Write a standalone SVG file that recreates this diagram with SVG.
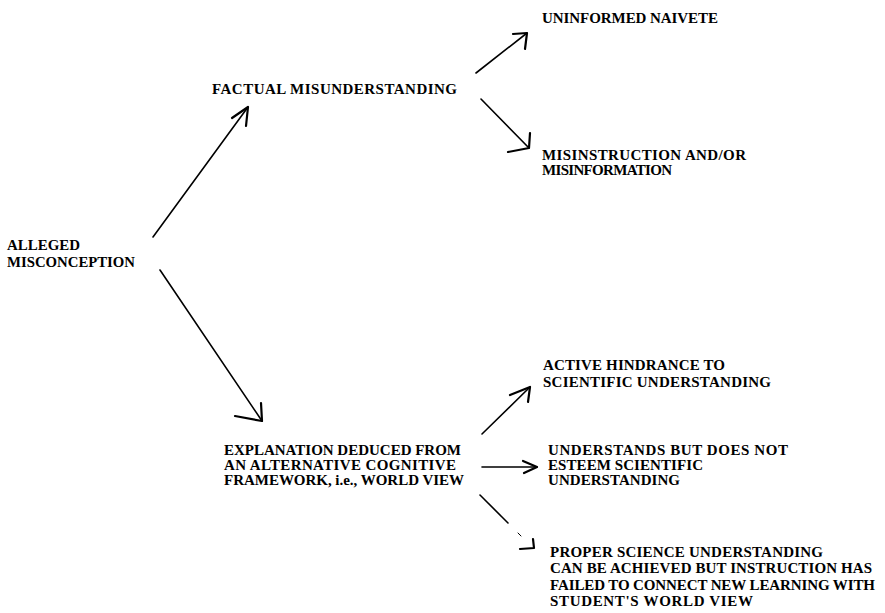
<svg xmlns="http://www.w3.org/2000/svg" width="885" height="613" viewBox="0 0 885 613">
<style>
  text { font-family: "Liberation Serif", "Times New Roman", serif; font-size: 15px; font-weight: bold; fill: #000; }
  .ln { stroke: #000; stroke-width: 1.6; fill: none; stroke-linecap: round; }
  .hd { stroke: #000; stroke-width: 2.2; fill: none; stroke-linecap: round; stroke-linejoin: round; }
</style>
<rect width="885" height="613" fill="#fff"/>
<g id="connectors">
  <line class="ln" x1="153" y1="237" x2="248" y2="107"/>
  <polyline class="hd" points="232,118 248,107 246,126"/>
  <line class="ln" x1="160" y1="270" x2="262" y2="421"/>
  <polyline class="hd" points="235,416 262,421 261,403"/>
  <line class="ln" x1="476" y1="73" x2="527" y2="33"/>
  <polyline class="hd" points="513,34 527,33 525,49"/>
  <line class="ln" x1="481" y1="99" x2="529" y2="148"/>
  <polyline class="hd" points="508,152 529,148 530,133"/>
  <line class="ln" x1="482" y1="434" x2="530" y2="387"/>
  <polyline class="hd" points="510,395 530,387 528,402"/>
  <line class="ln" x1="482" y1="467" x2="537" y2="467"/>
  <polyline class="hd" points="523,461 537,467 524,473"/>
  <line class="ln" x1="480" y1="495" x2="508" y2="523"/>
  <line class="ln" x1="518" y1="533" x2="521" y2="536" style="stroke-width:1"/>
  <polyline class="hd" points="520,549 534,548 533,539"/>
</g>
<g id="alleged">
  <text x="7" y="250" textLength="73" lengthAdjust="spacingAndGlyphs">ALLEGED</text>
  <text x="7" y="267" textLength="128" lengthAdjust="spacingAndGlyphs">MISCONCEPTION</text>
</g>
<g id="factual">
  <text x="212" y="94" textLength="245" lengthAdjust="spacing">FACTUAL MISUNDERSTANDING</text>
</g>
<g id="uninformed">
  <text x="542" y="23" textLength="176" lengthAdjust="spacing">UNINFORMED NAIVETE</text>
</g>
<g id="misinstruction">
  <text x="542" y="160" textLength="204" lengthAdjust="spacing">MISINSTRUCTION AND/OR</text>
  <text x="542" y="175" textLength="130" lengthAdjust="spacing">MISINFORMATION</text>
</g>
<g id="explanation">
  <text x="224" y="455" textLength="237" lengthAdjust="spacing">EXPLANATION DEDUCED FROM</text>
  <text x="224" y="470" textLength="232" lengthAdjust="spacing">AN ALTERNATIVE COGNITIVE</text>
  <text x="224" y="485" textLength="240" lengthAdjust="spacing">FRAMEWORK, i.e., WORLD VIEW</text>
</g>
<g id="active">
  <text x="543" y="370" textLength="182" lengthAdjust="spacing">ACTIVE HINDRANCE TO</text>
  <text x="543" y="387" textLength="228" lengthAdjust="spacing">SCIENTIFIC UNDERSTANDING</text>
</g>
<g id="understands">
  <text x="548" y="455" textLength="240" lengthAdjust="spacing">UNDERSTANDS BUT DOES NOT</text>
  <text x="548" y="470" textLength="155" lengthAdjust="spacing">ESTEEM SCIENTIFIC</text>
  <text x="548" y="485" textLength="132" lengthAdjust="spacing">UNDERSTANDING</text>
</g>
<g id="proper">
  <text x="550" y="557" textLength="273" lengthAdjust="spacing">PROPER SCIENCE UNDERSTANDING</text>
  <text x="550" y="573" textLength="322" lengthAdjust="spacing">CAN BE ACHIEVED BUT INSTRUCTION HAS</text>
  <text x="550" y="590" textLength="325" lengthAdjust="spacing">FAILED TO CONNECT NEW LEARNING WITH</text>
  <text x="550" y="606" textLength="203" lengthAdjust="spacing">STUDENT'S WORLD VIEW</text>
</g>
</svg>
